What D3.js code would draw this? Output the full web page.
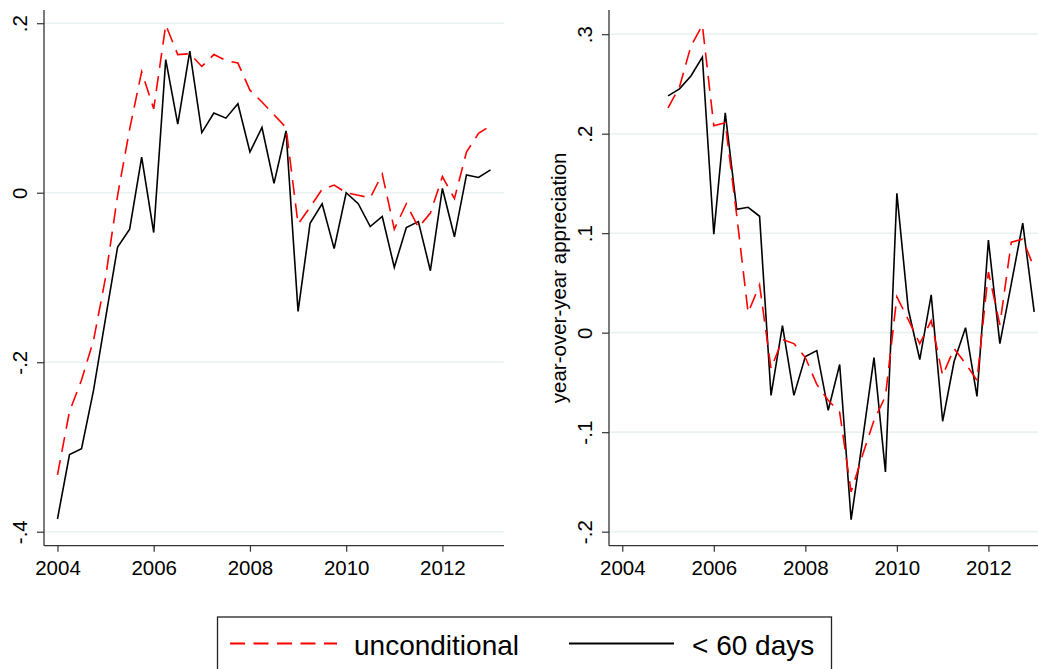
<!DOCTYPE html>
<html>
<head>
<meta charset="utf-8">
<script src="https://cdn.jsdelivr.net/npm/d3@7"></script>
<style>
html,body{margin:0;padding:0;background:#fff;}
svg{display:block;font-family:"Liberation Sans",Arial,Helvetica,sans-serif;}
</style>
</head>
<body>
<svg id="chart" width="1038" height="669"></svg>
<script>
// quarterly dates
const quarters = [2004.0,2004.25,2004.5,2004.75,2005.0,2005.25,2005.5,2005.75,2006.0,2006.25,2006.5,2006.75,
  2007.0,2007.25,2007.5,2007.75,2008.0,2008.25,2008.5,2008.75,2009.0,2009.25,2009.5,2009.75,
  2010.0,2010.25,2010.5,2010.75,2011.0,2011.25,2011.5,2011.75,2012.0,2012.25,2012.5,2012.75,2013.0];
const quartersRight = quarters.slice(4); // 2005.0 – 2013.0

// left panel
const leftUnconditional = [-0.333,-0.258,-0.221,-0.174,-0.100,-0.003,0.075,0.143,0.099,0.198,0.163,0.164,
  0.149,0.163,0.156,0.153,0.121,0.107,0.092,0.077,-0.037,-0.017,0.004,0.009,
  0.000,-0.003,-0.006,0.022,-0.043,-0.013,-0.041,-0.024,0.019,-0.007,0.048,0.070,0.079];
const leftUnder60 = [-0.385,-0.309,-0.302,-0.233,-0.148,-0.064,-0.043,0.042,-0.047,0.157,0.081,0.167,
  0.071,0.094,0.088,0.105,0.048,0.077,0.011,0.073,-0.140,-0.036,-0.013,-0.066,
  0.000,-0.013,-0.040,-0.028,-0.088,-0.041,-0.034,-0.092,0.005,-0.052,0.021,0.018,0.027];

// right panel
const rightUnconditional = [0.226,0.247,0.288,0.309,0.208,0.211,0.118,0.020,0.048,-0.036,-0.007,-0.011,
  -0.025,-0.052,-0.068,-0.080,-0.160,-0.123,-0.088,-0.064,0.036,0.013,-0.011,0.012,
  -0.043,-0.016,-0.031,-0.048,0.061,0.008,0.091,0.094,0.065];
const rightUnder60 = [0.238,0.245,0.258,0.277,0.099,0.221,0.124,0.126,0.117,-0.063,0.007,-0.063,
  -0.024,-0.018,-0.078,-0.032,-0.188,-0.108,-0.025,-0.140,0.140,0.023,-0.027,0.038,
  -0.089,-0.029,0.005,-0.064,0.093,-0.011,0.049,0.110,0.021];

// ticks
const xTicks = [2004,2006,2008,2010,2012];
const xTickLabels = ["2004","2006","2008","2010","2012"];
const leftYTicks = [-0.4,-0.2,0,0.2];
const leftYTickLabels = ["-.4","-.2","0",".2"];
const rightYTicks = [-0.2,-0.1,0,0.1,0.2,0.3];
const rightYTickLabels = ["-.2","-.1","0",".1",".2",".3"];
const seriesNames = ["unconditional","< 60 days"];
const rightYTitle = "year-over-year appreciation";

const svg = d3.select("#chart");
const RED = "#ff0000", BLACK = "#000000", GRID = "#eaf1f3", AXIS = "#333333";
const DASH = "15,8.5";

function panel(opts){
  const {left, right, top, bottom, xDomain, yDomain, yTicks, yLabels, series, title} = opts;
  const x = d3.scaleLinear().domain(xDomain).range([left, right]);
  const y = d3.scaleLinear().domain(yDomain).range([bottom, top]);
  const g = svg.append("g");

  // grid
  g.selectAll("line.grid").data(yTicks).enter().append("line")
    .attr("x1", left).attr("x2", right)
    .attr("y1", d => y(d)).attr("y2", d => y(d))
    .attr("stroke", GRID).attr("stroke-width", 1.6);

  // y axis
  const ya = g.append("g").attr("transform", `translate(${left},0)`)
    .call(d3.axisLeft(y).tickValues(yTicks).tickSize(7).tickFormat((d,i) => yLabels[i]));
  ya.select(".domain").remove();
  ya.selectAll(".tick line").attr("stroke", AXIS).attr("stroke-width", 1.2);
  ya.selectAll(".tick text").attr("font-size", 20.5).attr("fill", "#000")
    .attr("font-family", '"Liberation Sans",Arial,sans-serif')
    .attr("text-anchor", "middle").attr("dy", null)
    .attr("transform", "rotate(-90)")
    .attr("x", 0).attr("y", 0)
    .each(function(){
      d3.select(this).attr("transform", "translate(-17,0) rotate(-90)");
    });
  g.append("line").attr("x1", left).attr("x2", left).attr("y1", top).attr("y2", bottom)
    .attr("stroke", AXIS).attr("stroke-width", 1.3);

  // x axis
  const xa = g.append("g").attr("transform", `translate(0,${bottom})`)
    .call(d3.axisBottom(x).tickValues(xTicks).tickSize(6).tickFormat((d,i) => xTickLabels[i]));
  xa.select(".domain").remove();
  xa.selectAll(".tick line").attr("stroke", AXIS).attr("stroke-width", 1.2);
  xa.selectAll(".tick text").attr("font-size", 20.5).attr("fill", "#000")
    .attr("font-family", '"Liberation Sans",Arial,sans-serif')
    .attr("y", 29.5).attr("dy", null);
  g.append("line").attr("x1", left).attr("x2", right).attr("y1", bottom).attr("y2", bottom)
    .attr("stroke", AXIS).attr("stroke-width", 1.3);

  // lines
  series.forEach(s => {
    const line = d3.line().x((d,i) => x(s.x[i])).y(d => y(d));
    g.append("path").datum(s.values)
      .attr("d", line).attr("fill", "none")
      .attr("stroke", s.color).attr("stroke-width", s.width)
      .attr("stroke-dasharray", s.dash || null)
      .attr("stroke-linejoin", "miter");
  });

  if (title) {
    g.append("text")
      .attr("transform", `translate(${left - 43},${(top + bottom) / 2}) rotate(-90)`)
      .attr("text-anchor", "middle")
      .attr("font-size", 20.5).attr("fill", "#000")
      .text(title);
  }
}

panel({
  left: 44, right: 504, top: 10, bottom: 545.7,
  xDomain: [2003.72, 2013.28], yDomain: [-0.4165, 0.2156],
  yTicks: leftYTicks, yLabels: leftYTickLabels,
  series: [
    {x: quarters, values: leftUnder60, color: BLACK, width: 1.6},
    {x: quarters, values: leftUnconditional, color: RED, width: 1.6, dash: DASH}
  ]
});

panel({
  left: 609, right: 1047, top: 10, bottom: 545.7,
  xDomain: [2003.71, 2013.28], yDomain: [-0.2141, 0.3243],
  yTicks: rightYTicks, yLabels: rightYTickLabels,
  series: [
    {x: quartersRight, values: rightUnder60, color: BLACK, width: 1.6},
    {x: quartersRight, values: rightUnconditional, color: RED, width: 1.6, dash: DASH}
  ],
  title: rightYTitle
});

// legend
const lg = svg.append("g");
lg.append("rect").attr("x", 217.5).attr("y", 617).attr("width", 614).attr("height", 80)
  .attr("fill", "#fff").attr("stroke", "#222").attr("stroke-width", 1.3);
const legendItems = [
  {name: seriesNames[0], color: RED, dash: DASH, x1: 230, x2: 337, tx: 354},
  {name: seriesNames[1], color: BLACK, dash: null, x1: 569, x2: 674, tx: 692}
];
legendItems.forEach(it => {
  lg.append("line").attr("x1", it.x1).attr("x2", it.x2).attr("y1", 643.5).attr("y2", 643.5)
    .attr("stroke", it.color).attr("stroke-width", 1.8).attr("stroke-dasharray", it.dash);
  lg.append("text").attr("x", it.tx).attr("y", 655).attr("font-size", 28).attr("fill", "#000")
    .text(it.name);
});
</script>
</body>
</html>
